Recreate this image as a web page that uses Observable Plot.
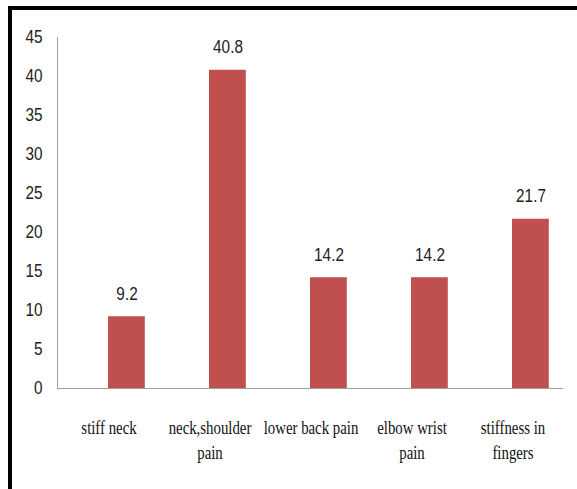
<!DOCTYPE html>
<html>
<head>
<meta charset="utf-8">
<script src="https://cdn.jsdelivr.net/npm/d3@7"></script>
<script src="https://cdn.jsdelivr.net/npm/@observablehq/plot@0.6"></script>
<style>
  html, body { margin: 0; padding: 0; background: #fff; }
  #wrap { position: relative; width: 577px; height: 489px; overflow: hidden; }
  #border { position: absolute; left: 8px; top: 6px; width: 600px; height: 520px;
            border-left: 4px solid #000; border-top: 4px solid #000; pointer-events: none; }
</style>
</head>
<body>
<div id="wrap"><div id="border"></div></div>
<script>
const categories = ["stiff neck", "neck,shoulder\npain", "lower back pain", "elbow wrist\npain", "stiffness in\nfingers"];
const values = [9.2, 40.8, 14.2, 14.2, 21.7];
const yTicks = [0, 5, 10, 15, 20, 25, 30, 35, 40, 45];

const data = categories.map((c, i) => ({category: c, value: values[i]}));

const sans = "'Liberation Sans', Arial, sans-serif";
const serif = "'Liberation Serif', 'Times New Roman', serif";

const chart = Plot.plot({
  width: 577,
  height: 489,
  marginLeft: 57,
  marginRight: 14,
  marginTop: 37,
  marginBottom: 101,
  style: {background: "transparent", color: "#222"},
  x: {domain: categories, padding: 0, label: null},
  y: {domain: [0, 45], label: null},
  marks: [
    Plot.barY(data, {x: "category", y: "value", fill: "#c0504d", insetLeft: 50, insetRight: 14.2}),
    Plot.text(data, {x: "category", y: "value", text: d => d.value.toFixed(1), dx: 18, dy: -17,
      lineAnchor: "bottom", fontSize: 18, fontFamily: sans, fill: "#222"}),
    Plot.axisY({ticks: yTicks, tickSize: 0, tickPadding: 15, fontSize: 18, label: null}),
    Plot.axisX({tickSize: 0, tickPadding: 28, fontSize: 19, lineHeight: 1.3, label: null, fill: "#111"}),
    Plot.frame({anchor: "left", stroke: "#a0a0a0"}),
    Plot.ruleY([0], {stroke: "#a0a0a0"})
  ]
});
chart.style.position = "absolute";
chart.style.left = "0px";
chart.style.top = "0px";
document.getElementById("wrap").appendChild(chart);

const svg = d3.select(chart);
function squeeze(sel, family, k) {
  sel.each(function() {
    const el = this;
    el.setAttribute("font-family", family);
    el.style.fontFamily = family;
    const spans = el.querySelectorAll("tspan");
    const targets = spans.length ? Array.from(spans) : [el];
    for (const s of targets) {
      const len = s.getComputedTextLength();
      if (len > 0) {
        s.setAttribute("textLength", (len * k).toFixed(2));
        s.setAttribute("lengthAdjust", "spacingAndGlyphs");
      }
    }
  });
}
squeeze(svg.selectAll("g[aria-label='y-axis tick label'] text"), sans, 0.85);
squeeze(svg.selectAll("g[aria-label='text'] text"), sans, 0.85);
squeeze(svg.selectAll("g[aria-label='x-axis tick label'] text"), serif, 0.78);
</script>
</body>
</html>
